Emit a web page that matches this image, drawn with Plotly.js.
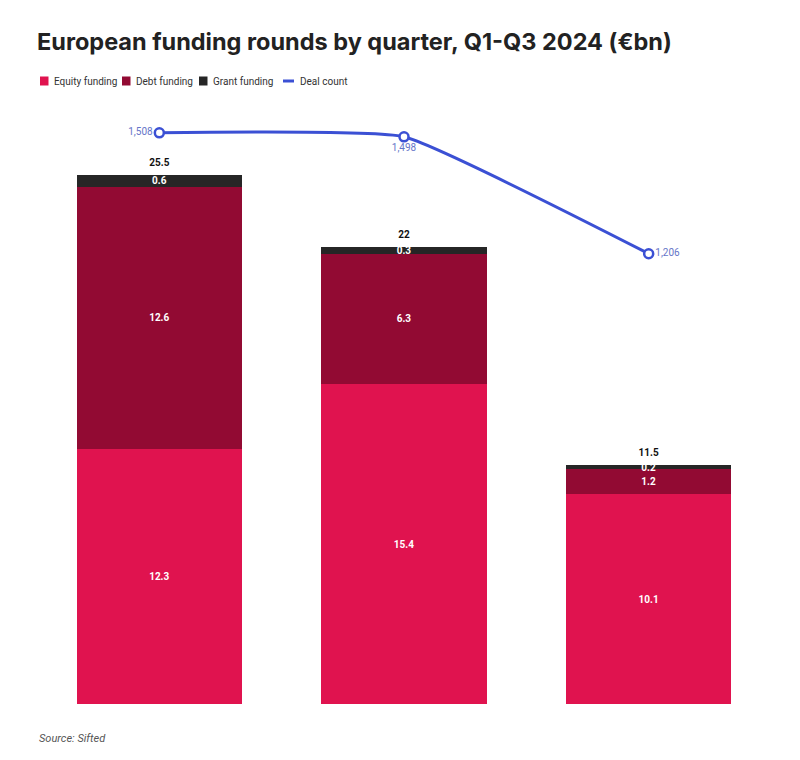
<!DOCTYPE html>
<html>
<head>
<meta charset="utf-8">
<script src="https://cdn.plot.ly/plotly-3.0.1.min.js"></script>
<style>html,body{margin:0;padding:0;background:#fff;}#chart{width:800px;height:760px;}</style>
</head>
<body>
<div id="chart"></div>
<script>
const quarters = ["Q1 2024", "Q2 2024", "Q3 2024"];
const equity = [12.3, 15.4, 10.1];
const debt = [12.6, 6.3, 1.2];
const grant = [0.6, 0.3, 0.2];
const totals = [25.5, 22, 11.5];
const dealCount = [1508, 1498, 1206];
const dealLabels = ["1,508", "1,498", "1,206"];
const legendNames = ["Equity funding", "Debt funding", "Grant funding", "Deal count"];

const cEquity = "#e0134f", cDebt = "#920a33", cGrant = "#262626", cLine = "#3b50d4";
const legendColors = [cEquity, cDebt, cGrant, cLine];

// plot area in pixels
const L = 37, R = 29, T = 100, B = 56, W = 800, H = 760;
const pw = W - L - R, ph = H - T - B;
const px = x => (x - L) / pw;
const py = y => (H - B - y) / ph;

function barTrace(name, vals, color) {
  return {
    type: "bar", name: name, x: quarters, y: vals,
    marker: {color: color, line: {width: 0}},
    text: vals.map(v => v.toFixed(1)), textposition: "inside",
    insidetextanchor: "middle", constraintext: "none",
    textfont: {color: "#ffffff", size: 10, family: "Roboto", weight: 700},
    hoverinfo: "skip", width: 0.675, showlegend: false
  };
}

const data = [
  barTrace("Equity funding", equity, cEquity),
  barTrace("Debt funding", debt, cDebt),
  barTrace("Grant funding", grant, cGrant),
  {
    type: "scatter", mode: "markers+text", x: quarters, y: totals,
    marker: {size: 9, color: "rgba(0,0,0,0)"},
    text: totals.map(String), textposition: "top center",
    textfont: {color: "#111", size: 10, family: "Roboto", weight: 700},
    showlegend: false, hoverinfo: "skip", cliponaxis: false
  },
  {
    type: "scatter", mode: "lines+markers+text", name: "Deal count",
    x: quarters, y: dealCount, yaxis: "y2",
    line: {color: cLine, width: 3, shape: "spline", smoothing: 0.35},
    marker: {symbol: "circle", size: 9, color: "#ffffff", line: {color: cLine, width: 2.5}},
    text: dealLabels, textposition: ["middle left", "bottom center", "middle right"],
    textfont: {color: "#6575c8", size: 10, family: "Roboto"},
    cliponaxis: false, hoverinfo: "skip", showlegend: false
  }
];

// manual legend (compact, like the reference)
const legX = [40, 122, 199, 283];
const legY = 81;
const shapes = [];
const annotations = [];
legendNames.forEach((n, i) => {
  if (i < 3) {
    shapes.push({type: "rect", xref: "paper", yref: "paper",
      x0: px(legX[i]), x1: px(legX[i] + 8.5), y0: py(legY + 4.5), y1: py(legY - 4.5),
      fillcolor: legendColors[i], line: {width: 0}});
  } else {
    shapes.push({type: "line", xref: "paper", yref: "paper",
      x0: px(legX[i]), x1: px(legX[i] + 11), y0: py(legY), y1: py(legY),
      line: {color: legendColors[i], width: 3}});
  }
  annotations.push({text: n, xref: "paper", yref: "paper",
    x: px(legX[i] + (i < 3 ? 12 : 15)), xanchor: "left", y: py(legY), yanchor: "middle",
    showarrow: false, font: {size: 10, color: "#333", family: "Roboto"}});
});
annotations.push({
  text: "<i>Source: Sifted</i>", xref: "paper", yref: "paper",
  x: 0, xanchor: "left", y: py(738), yanchor: "middle",
  showarrow: false, font: {size: 11, color: "#555", family: "Roboto"}
});

const layout = {
  width: W, height: H,
  paper_bgcolor: "#ffffff", plot_bgcolor: "#ffffff",
  margin: {l: L, r: R, t: T, b: B},
  font: {family: "Roboto, sans-serif", color: "#333"},
  barmode: "stack", bargap: 0.325,
  title: {
    text: "<b>European funding rounds by quarter, Q1-Q3 2024 (€bn)</b>",
    font: {family: "Inter, Roboto, sans-serif", size: 23.5, color: "#222"},
    x: 0, xref: "paper", xanchor: "left", y: 1 - 42 / H, yanchor: "middle"
  },
  showlegend: false,
  xaxis: {showticklabels: false, showgrid: false, zeroline: false, showline: false, ticks: "", range: [-0.5, 2.5], fixedrange: true},
  yaxis: {showticklabels: false, showgrid: false, zeroline: false, showline: false, ticks: "", range: [0, 29.1]},
  yaxis2: {overlaying: "y", side: "right", showticklabels: false, showgrid: false, zeroline: false, showline: false, range: [81, 1590]},
  shapes: shapes,
  annotations: annotations
};

Plotly.newPlot("chart", data, layout, {displayModeBar: false, staticPlot: true});
</script>
</body>
</html>
